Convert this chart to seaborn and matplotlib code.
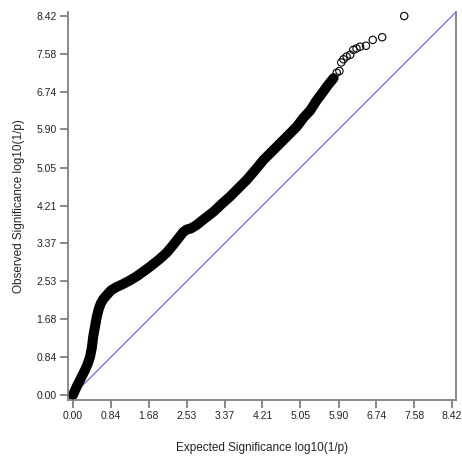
import matplotlib
matplotlib.use("Agg")
import matplotlib.pyplot as plt
import seaborn as sns
import pandas as pd

# Dense part of the QQ curve
expected_dense = [0.00, 0.08, 0.18, 0.27, 0.33, 0.38, 0.42, 0.45, 0.49, 0.53, 0.57, 0.62,
                  0.68, 0.75, 0.85, 0.97, 1.12, 1.27, 1.42, 1.56, 1.71, 1.90, 2.08, 2.23,
                  2.34, 2.45, 2.53, 2.62, 2.75, 2.95, 3.12, 3.30, 3.49, 3.67, 3.86, 4.05,
                  4.23, 4.42, 4.60, 4.79, 4.97, 5.12, 5.27, 5.41, 5.56, 5.66, 5.79]
observed_dense = [0.00, 0.18, 0.38, 0.56, 0.70, 0.85, 1.05, 1.30, 1.52, 1.74, 1.90, 2.04,
                  2.14, 2.22, 2.33, 2.40, 2.47, 2.55, 2.64, 2.74, 2.85, 3.00, 3.16, 3.34,
                  3.48, 3.62, 3.68, 3.70, 3.78, 3.94, 4.07, 4.24, 4.41, 4.59, 4.78, 5.00,
                  5.22, 5.41, 5.59, 5.78, 5.96, 6.16, 6.32, 6.54, 6.74, 6.88, 7.04]

# Sparse tail points
expected_tail = [5.86, 5.92, 5.96, 6.01, 6.08, 6.16, 6.23, 6.30, 6.38, 6.51, 6.66, 6.87, 7.36]
observed_tail = [7.16, 7.20, 7.39, 7.46, 7.52, 7.56, 7.67, 7.70, 7.74, 7.76, 7.89, 7.95, 8.42]

tick_values = [0.00, 0.84, 1.68, 2.53, 3.37, 4.21, 5.05, 5.90, 6.74, 7.58, 8.42]
tick_labels = ["0.00", "0.84", "1.68", "2.53", "3.37", "4.21", "5.05", "5.90", "6.74", "7.58", "8.42"]

sns.set_style("white")
plt.rcParams['font.family'] = ['Liberation Sans', 'DejaVu Sans']

fig = plt.figure(figsize=(4.62, 4.59), dpi=100)
ax = fig.add_axes([68/462, 59/459, (456-68)/462, (400-12)/459])

dense = pd.DataFrame({"exp": expected_dense, "obs": observed_dense})
tail = pd.DataFrame({"exp": expected_tail, "obs": observed_tail})
allpts = pd.concat([dense, tail], ignore_index=True)

ax.axline((0, 0), slope=1, color="#6a6aff", lw=0.9, zorder=1)
sns.lineplot(data=dense, x="exp", y="obs", sort=False, estimator=None, color="black",
             lw=7.2, solid_capstyle="round", solid_joinstyle="round", ax=ax, zorder=2)
sns.scatterplot(data=allpts, x="exp", y="obs", marker="o", s=28, facecolor="none",
                edgecolor="black", linewidth=0.8, ax=ax, zorder=3)

ax.set_xlim(-0.11, 8.51)
ax.set_ylim(-0.11, 8.51)
ax.set_xticks(tick_values)
ax.set_xticklabels(tick_labels)
ax.set_yticks(tick_values)
ax.set_yticklabels(tick_labels)

for side in ["left", "bottom", "right"]:
    ax.spines[side].set_visible(True)
    ax.spines[side].set_color("#808080")
    ax.spines[side].set_linewidth(1.3)
ax.spines["top"].set_visible(False)

ax.tick_params(axis="both", which="major", direction="out", length=6, width=1.3,
               color="#808080", labelsize=7.5, labelcolor="#222222", pad=2,
               bottom=True, left=True)

ax.set_xlabel("Expected Significance log10(1/p)", fontsize=8.5, color="#222222", labelpad=15)
ax.set_ylabel("Observed Significance log10(1/p)", fontsize=8.5, color="#222222", labelpad=8)

fig.savefig("out.png", dpi=100)
